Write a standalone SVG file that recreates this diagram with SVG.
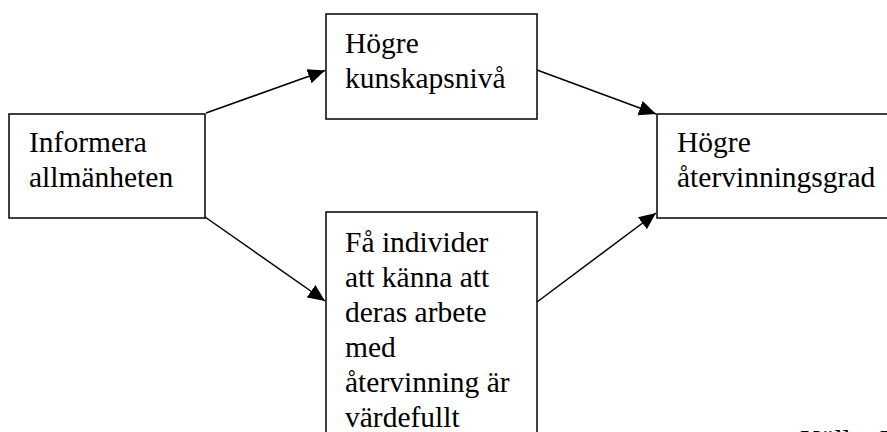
<svg xmlns="http://www.w3.org/2000/svg" width="887" height="432" viewBox="0 0 887 432">
<style>
.box{fill:#fff;stroke:#000;stroke-width:1.5}
.t{font-family:"Liberation Serif","Times New Roman",serif;font-size:29.5px;fill:#000}
.c{stroke:#000;stroke-width:1.5;fill:none}
</style>
<defs>
<marker id="ah" markerUnits="userSpaceOnUse" markerWidth="18" markerHeight="16" refX="17" refY="7.5" orient="auto">
<path d="M0,0 L17,7.5 L0,15 z" fill="#000"/>
</marker>
<clipPath id="clip4"><rect x="326" y="212" width="212" height="215"/></clipPath>
</defs>
<rect width="887" height="432" fill="#fff"/>
<g id="connectors">
<line class="c" x1="206" y1="113" x2="325" y2="70.5" marker-end="url(#ah)"/>
<line class="c" x1="537" y1="70" x2="656" y2="114" marker-end="url(#ah)"/>
<line class="c" x1="205" y1="217" x2="325" y2="301" marker-end="url(#ah)"/>
<line class="c" x1="537" y1="302" x2="656" y2="213" marker-end="url(#ah)"/>
</g>
<g id="n1">
<rect class="box" x="9" y="114" width="196" height="104"/>
<text class="t" x="29" y="152">Informera</text>
<text class="t" x="29" y="187">allmänheten</text>
</g>
<g id="n2">
<rect class="box" x="326" y="14" width="211" height="105"/>
<text class="t" x="345" y="53">Högre</text>
<text class="t" x="345" y="88">kunskapsnivå</text>
</g>
<g id="n3">
<rect class="box" x="657" y="114" width="240" height="104"/>
<text class="t" x="677" y="152">Högre</text>
<text class="t" x="677" y="187">återvinningsgrad</text>
</g>
<g id="n4">
<rect class="box" x="326" y="212" width="211" height="240"/>
<g clip-path="url(#clip4)">
<text class="t" x="345" y="252">Få individer</text>
<text class="t" x="345" y="287">att känna att</text>
<text class="t" x="345" y="322">deras arbete</text>
<text class="t" x="345" y="357">med</text>
<text class="t" x="345" y="392">återvinning är</text>
<text class="t" x="345" y="427">värdefullt</text>
</g>
</g>
<text class="t" x="800" y="450">Källa: I</text>
</svg>
